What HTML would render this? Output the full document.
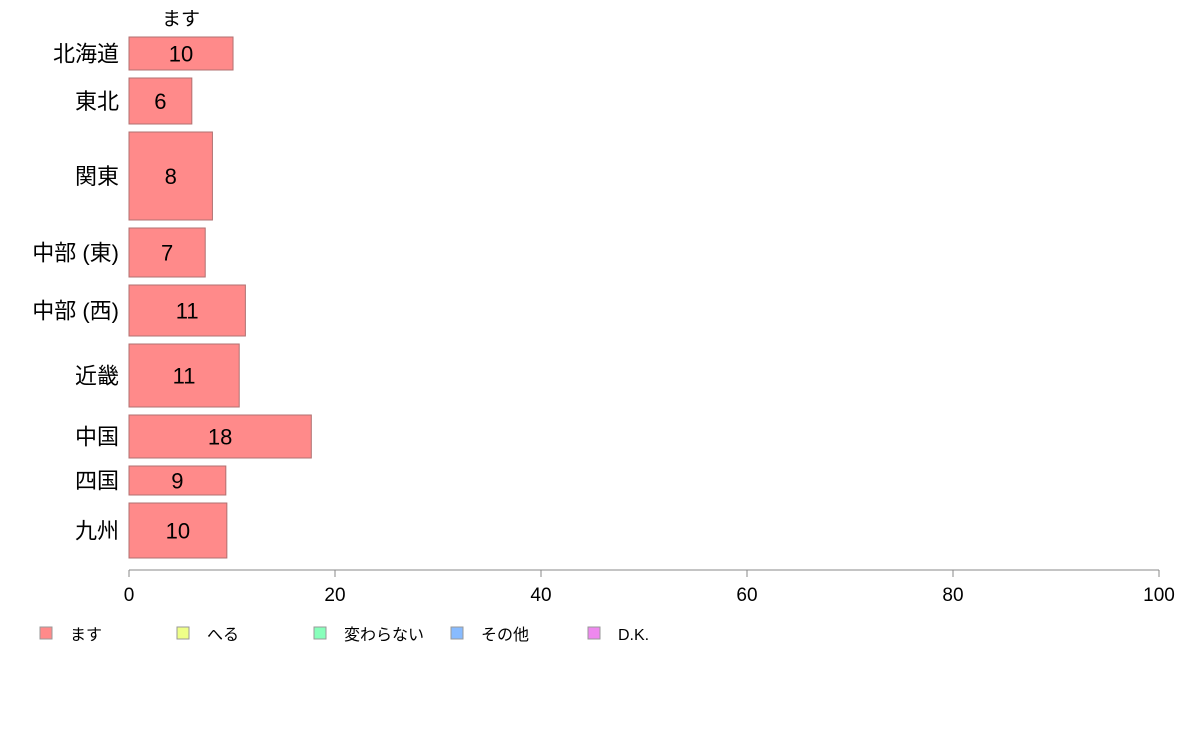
<!DOCTYPE html>
<html><head><meta charset="utf-8"><style>
body{margin:0;background:#fff;}
svg text{font-family:"Liberation Sans","Noto Sans CJK JP",sans-serif;}
</style></head><body>
<svg id="chart" width="1188" height="736"></svg>
<script>
const categories=["北海道","東北","関東","中部 (東)","中部 (西)","近畿","中国","四国","九州"];
const values=[10.1,6.1,8.1,7.4,11.3,10.7,17.7,9.4,9.5];
const labels=["10","6","8","7","11","11","18","9","10"];
const weights=[33,46,88,49,51,63,43,29,55];
const ticks=[0,20,40,60,80,100];
const legendItems=["ます","へる","変わらない","その他","D.K."];
const legendColors=["#ff8a8a","#eeff88","#88ffbb","#88bbff","#ee88ee"];
const NS="http://www.w3.org/2000/svg";
const svg=document.getElementById('chart');
function mk(t,a,p){const e=document.createElementNS(NS,t);for(const k in a)e.setAttribute(k,a[k]);(p||svg).appendChild(e);return e;}
const x0=129,x1=1159,yTop=37,yBot=558,gap=8;
const x=v=>x0+(x1-x0)*v/100;
const totalW=weights.reduce((a,b)=>a+b,0);
const avail=(yBot-yTop)-gap*(categories.length-1);
let y=yTop;
categories.forEach((c,i)=>{
  const h=avail*weights[i]/totalW;
  const r=mk('rect',{x:x0,y:y,width:x(values[i])-x0,height:h,fill:'#ff8a8a',stroke:'#b07070','stroke-width':1});
  
  
  const t=mk('text',{x:(x0+x(values[i]))/2,y:y+h/2+8,'text-anchor':'middle','font-size':22,fill:'#000'});
  t.textContent=labels[i];
  
  
  const l=mk('text',{x:119,y:y+h/2+8,'text-anchor':'end','font-size':22,fill:'#000'});
  l.textContent=c;
  
  
  if(i===0){
    const tt=mk('text',{x:(x0+x(values[0]))/2,y:25,'text-anchor':'middle','font-size':19});
    tt.textContent="ます";
    
    
  }
  y+=h+gap;
});
const ax=mk('line',{x1:x0,x2:x1,y1:570,y2:570,stroke:'#888'});


ticks.forEach(v=>{
  const tl=mk('line',{x1:x(v),x2:x(v),y1:570,y2:577,stroke:'#888'});
  
  
  const tx=mk('text',{x:x(v),y:601,'text-anchor':'middle','font-size':19});
  tx.textContent=v;
  
  
});
legendItems.forEach((n,i)=>{
  const lx=40+137*i;
  const r=mk('rect',{x:lx,y:627,width:12,height:12,fill:legendColors[i],stroke:'#999'});
  
  
  const t=mk('text',{x:lx+30,y:640,'font-size':16});
  t.textContent=n;
  
  
});
</script>
</body></html>
